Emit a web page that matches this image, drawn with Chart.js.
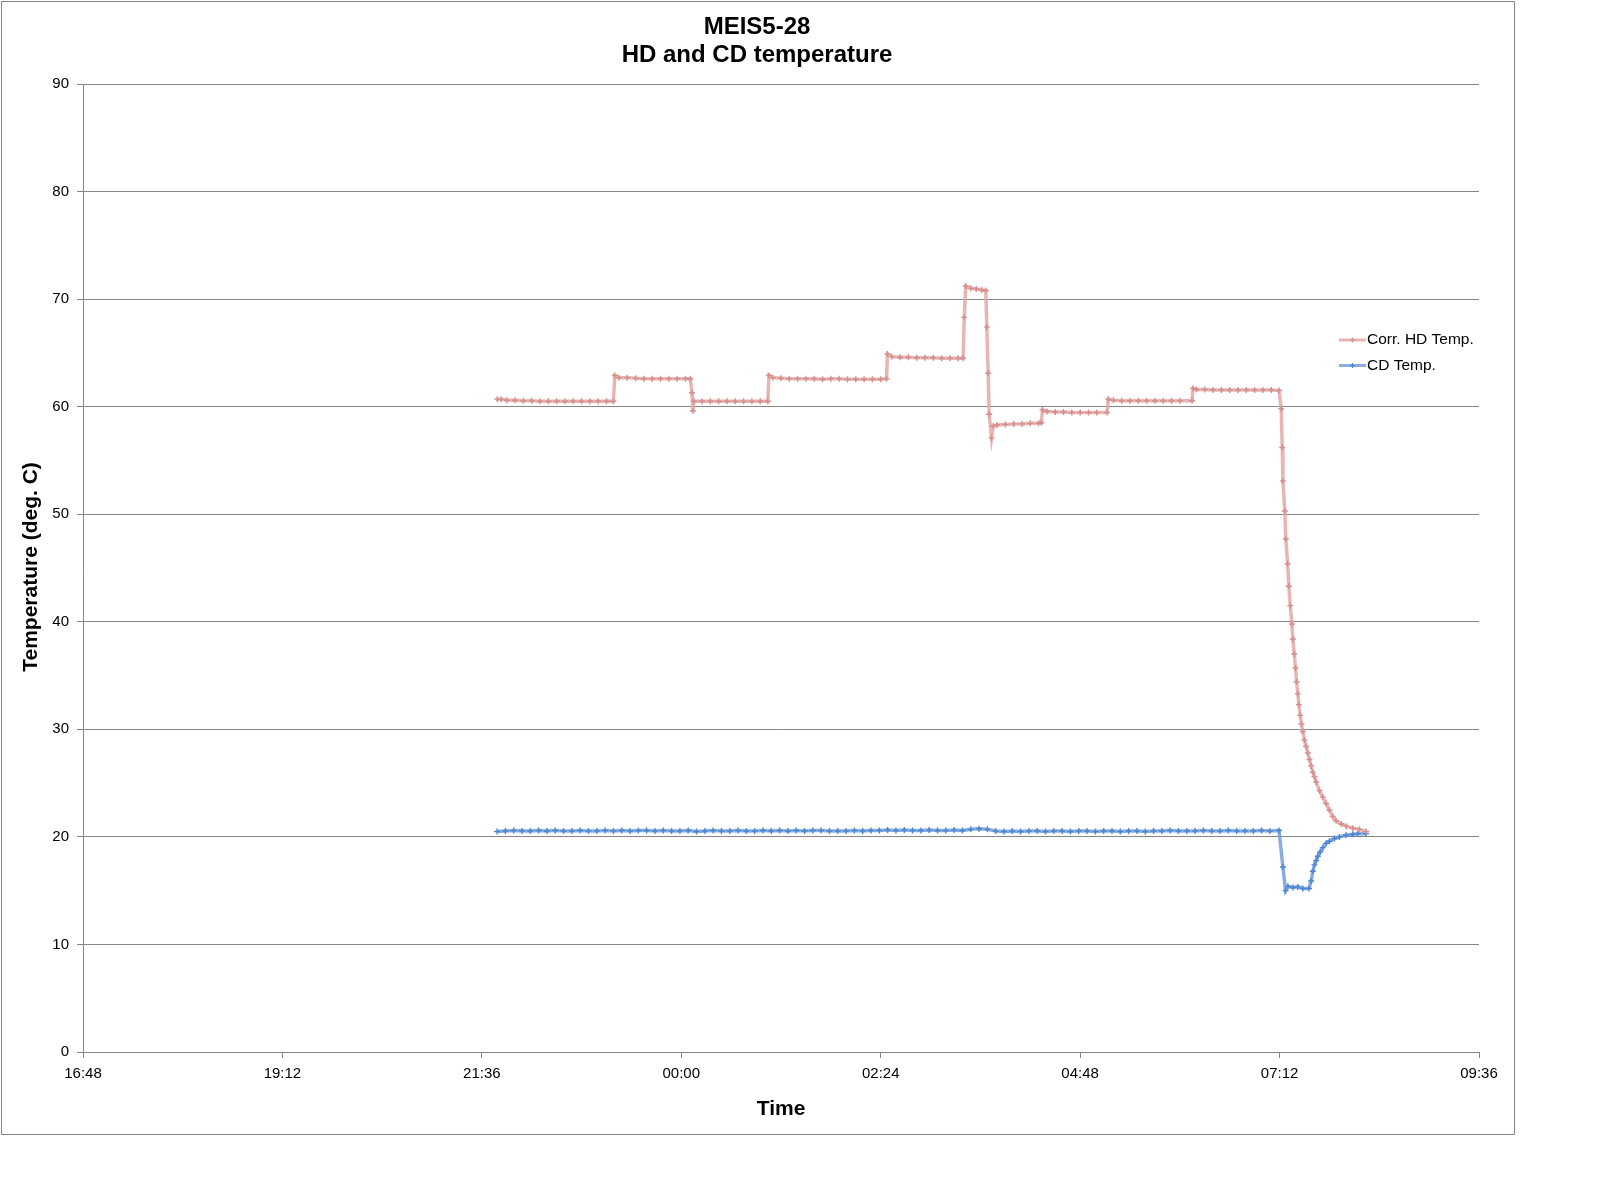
<!DOCTYPE html>
<html>
<head>
<meta charset="utf-8">
<script src="https://cdn.jsdelivr.net/npm/chart.js@4.4.1/dist/chart.umd.min.js"></script>
<style>
  html, body { margin: 0; padding: 0; background: #fff; }
  #wrap { width: 1598px; height: 1202px; position: relative; }
</style>
</head>
<body>
<div id="wrap"><canvas id="chart" width="1598" height="1202"></canvas></div>
<script>
// time in minutes after 16:48 (the first x tick)
const xTickLabels = ["16:48", "19:12", "21:36", "00:00", "02:24", "04:48", "07:12", "09:36"];
const yTicks = [0, 10, 20, 30, 40, 50, 60, 70, 80, 90];

const hdTime = [
  299, 302, 306, 312, 318, 324, 330, 336, 342, 348, 354, 360, 366, 372, 378, 383,
  384, 387, 393, 399, 405, 411, 417, 423, 429, 435, 438.5,
  439.7, 440.4, 441.2, 447, 453, 459, 465, 471, 477, 483, 489, 494.5,
  495.3, 498, 504, 510, 516, 522, 528, 534, 540, 546, 552, 558, 564, 570, 576, 580.2,
  580.9, 584, 590, 596, 602, 608, 614, 620, 626, 632, 635.5,
  636.3, 637.4, 641, 645, 649, 651.9,
  652.6, 653.6, 654.3, 656, 657.2, 660, 666, 672, 678, 684, 690, 692,
  692.8, 696, 702, 708, 714, 720, 726, 732, 739.5,
  740.3, 744, 750, 756, 762, 768, 774, 780, 786, 792, 800.8,
  801.5, 804, 810, 816, 822, 828, 834, 840, 846, 852, 858, 863.6,
  865.2, 865.9, 866.4, 867.8, 868.5, 869.8, 870.7, 871.7, 872.9, 873.6, 874.6, 875.5,
  876.3, 877.2, 877.9, 878.9, 879.8, 880.8, 882, 883.2, 884.4, 885.6, 886.8, 888,
  889.2, 890.4, 892.8, 895.2, 897.6, 900, 902.4, 904.8, 908.5, 912.1, 916.9, 921.7, 926.5
];
const hdTemp = [
  60.7, 60.7, 60.6, 60.6, 60.55, 60.55, 60.5, 60.5, 60.5, 60.5, 60.5, 60.5, 60.5, 60.5, 60.5, 60.5,
  62.9, 62.7, 62.7, 62.65, 62.6, 62.6, 62.6, 62.6, 62.6, 62.6, 62.6,
  61.3, 59.6, 60.5, 60.5, 60.5, 60.5, 60.5, 60.5, 60.5, 60.5, 60.5, 60.5,
  62.9, 62.7, 62.65, 62.6, 62.6, 62.6, 62.6, 62.55, 62.6, 62.6, 62.55, 62.55, 62.55, 62.55, 62.55, 62.6,
  64.9, 64.65, 64.6, 64.6, 64.55, 64.55, 64.55, 64.5, 64.5, 64.5, 64.5,
  68.3, 71.2, 71.0, 70.95, 70.85, 70.8,
  67.4, 63.1, 59.3, 57.1, 58.2, 58.3, 58.35, 58.4, 58.4, 58.45, 58.45, 58.5,
  59.7, 59.55, 59.5, 59.5, 59.45, 59.45, 59.45, 59.45, 59.45,
  60.7, 60.6, 60.55, 60.55, 60.55, 60.55, 60.55, 60.55, 60.55, 60.55, 60.55,
  61.7, 61.6, 61.6, 61.55, 61.55, 61.55, 61.55, 61.55, 61.55, 61.55, 61.55, 61.5,
  59.8, 56.2, 53.1, 50.3, 47.7, 45.4, 43.3, 41.5, 39.8, 38.4, 37.0, 35.7,
  34.4, 33.3, 32.3, 31.3, 30.5, 29.8, 29.0, 28.4, 27.8, 27.2, 26.6, 26.0,
  25.6, 25.1, 24.3, 23.7, 23.1, 22.5, 21.9, 21.5, 21.2, 21.0, 20.8, 20.7, 20.5
];

const cdTime = [
  299, 305, 311, 317, 323, 329, 335, 341, 347, 353, 359, 365, 371, 377, 383, 389,
  395, 401, 407, 413, 419, 425, 431, 437, 443, 449, 455, 461, 467, 473, 479, 485,
  491, 497, 503, 509, 515, 521, 527, 533, 539, 545, 551, 557, 563, 569, 575, 581,
  587, 593, 599, 605, 611, 617, 623, 629, 635, 641, 647, 653, 659, 665, 671, 677,
  683, 689, 695, 701, 707, 713, 719, 725, 731, 737, 743, 749, 755, 761, 767, 773,
  779, 785, 791, 797, 803, 809, 815, 821, 827, 833, 839, 845, 851, 857, 863.6,
  866.4, 868.3, 870, 873.6, 877.2, 880.8, 885.2,
  886.8, 888, 889.2, 890.4, 891.6, 893.3, 895.2, 897.6, 900, 903.6, 907.2, 912, 916.8, 920.4, 926.5
];
const cdTemp = [
  20.5, 20.55, 20.6, 20.55, 20.55, 20.6, 20.55, 20.6, 20.55, 20.55, 20.6, 20.55, 20.55, 20.6, 20.55, 20.6,
  20.55, 20.6, 20.6, 20.55, 20.6, 20.55, 20.55, 20.6, 20.5, 20.55, 20.6, 20.55, 20.55, 20.6, 20.55, 20.55,
  20.6, 20.55, 20.6, 20.55, 20.6, 20.55, 20.6, 20.6, 20.55, 20.55, 20.55, 20.6, 20.55, 20.6, 20.6, 20.65,
  20.6, 20.65, 20.6, 20.6, 20.65, 20.6, 20.6, 20.65, 20.6, 20.7, 20.75, 20.7, 20.55, 20.5, 20.55, 20.5,
  20.55, 20.55, 20.5, 20.55, 20.55, 20.5, 20.55, 20.55, 20.5, 20.55, 20.55, 20.5, 20.55, 20.55, 20.5, 20.55,
  20.55, 20.6, 20.55, 20.55, 20.55, 20.6, 20.55, 20.55, 20.6, 20.55, 20.55, 20.55, 20.6, 20.55, 20.6,
  17.2, 15.0, 15.4, 15.3, 15.35, 15.2, 15.2,
  15.9, 16.8, 17.4, 17.8, 18.2, 18.6, 19.0, 19.4, 19.6, 19.85, 20.0, 20.15, 20.25, 20.3, 20.3
];

const seriesNames = ["Corr. HD Temp.", "CD Temp."];
const lineColors = ["rgba(226,168,167,0.85)", "rgba(115,160,220,0.85)"];
const markColors = ["#D48E8C", "#4A86D0"];

const toPoints = (xs, ys) => xs.map((x, i) => ({ x: x, y: ys[i] }));

const FONT = "'Liberation Sans', Arial, sans-serif";
const GRID = "#868686";

const decor = {
  id: "decor",
  beforeDraw(chart) {
    const c = chart.ctx;
    c.save();
    c.fillStyle = "#fff";
    c.fillRect(0, 0, chart.width, chart.height);
    c.restore();
  },
  afterDraw(chart) {
    const c = chart.ctx;
    c.save();
    // outer frame
    c.strokeStyle = GRID;
    c.lineWidth = 1;
    c.strokeRect(1.5, 1.5, 1513, 1133);
    // titles
    c.fillStyle = "#000";
    c.textAlign = "center";
    c.textBaseline = "middle";
    c.font = "bold 24px " + FONT;
    c.fillText("MEIS5-28", 757, 27);
    c.fillText("HD and CD temperature", 757, 55);
    c.font = "bold 21px " + FONT;
    c.fillText("Time", 781, 1109);
    c.translate(31, 567);
    c.rotate(-Math.PI / 2);
    c.fillText("Temperature (deg. C)", 0, 0);
    c.restore();
    // legend
    c.save();
    c.font = "15.5px " + FONT;
    c.textBaseline = "middle";
    c.textAlign = "left";
    seriesNames.forEach((name, i) => {
      const y = 340 + i * 25.5;
      c.strokeStyle = lineColors[i];
      c.lineWidth = 3;
      c.beginPath();
      c.moveTo(1339, y);
      c.lineTo(1366, y);
      c.stroke();
      c.strokeStyle = markColors[i];
      c.lineWidth = 1.2;
      c.beginPath();
      c.moveTo(1350, y); c.lineTo(1355, y);
      c.moveTo(1352.5, y - 2.5); c.lineTo(1352.5, y + 2.5);
      c.stroke();
      c.fillStyle = "#000";
      c.fillText(name, 1367, y);
    });
    c.restore();
  }
};

new Chart(document.getElementById("chart"), {
  type: "line",
  data: {
    datasets: [
      {
        label: seriesNames[0],
        data: toPoints(hdTime, hdTemp),
        borderColor: lineColors[0],
        borderWidth: 3.5,
        pointStyle: "cross",
        pointRadius: 3,
        pointBorderWidth: 1.4,
        pointBorderColor: markColors[0],
        pointBackgroundColor: markColors[0],
        tension: 0,
      },
      {
        label: seriesNames[1],
        data: toPoints(cdTime, cdTemp),
        borderColor: lineColors[1],
        borderWidth: 3.5,
        pointStyle: "cross",
        pointRadius: 3,
        pointBorderWidth: 1.4,
        pointBorderColor: markColors[1],
        pointBackgroundColor: markColors[1],
        tension: 0,
      },
    ],
  },
  options: {
    responsive: false,
    devicePixelRatio: 1,
    animation: false,
    layout: { padding: { top: 84, left: 0, right: 119, bottom: 70 } },
    plugins: {
      legend: { display: false },
      title: { display: false },
      tooltip: { enabled: false },
    },
    scales: {
      x: {
        type: "linear",
        min: 0,
        max: 1008,
        afterBuildTicks: (s) => { s.ticks = xTickLabels.map((t, i) => ({ value: i * 144 })); },
        afterFit: (s) => { s.height = 80; },
        ticks: {
          callback: (v, i) => xTickLabels[i],
          color: "#000",
          font: { family: FONT, size: 15 },
          padding: 7,
          maxRotation: 0,
          autoSkip: false,
        },
        grid: { drawOnChartArea: false, drawTicks: true, tickLength: 6, color: GRID },
        border: { color: GRID, width: 1 },
      },
      y: {
        min: 0,
        max: 90,
        afterBuildTicks: (s) => { s.ticks = yTicks.map((v) => ({ value: v })); },
        afterFit: (s) => { s.width = 83; },
        ticks: {
          color: "#000",
          font: { family: FONT, size: 15 },
          padding: 8,
        },
        grid: { color: GRID, tickLength: 6 },
        border: { color: GRID, width: 1 },
      },
    },
  },
  plugins: [decor],
});
</script>
</body>
</html>
